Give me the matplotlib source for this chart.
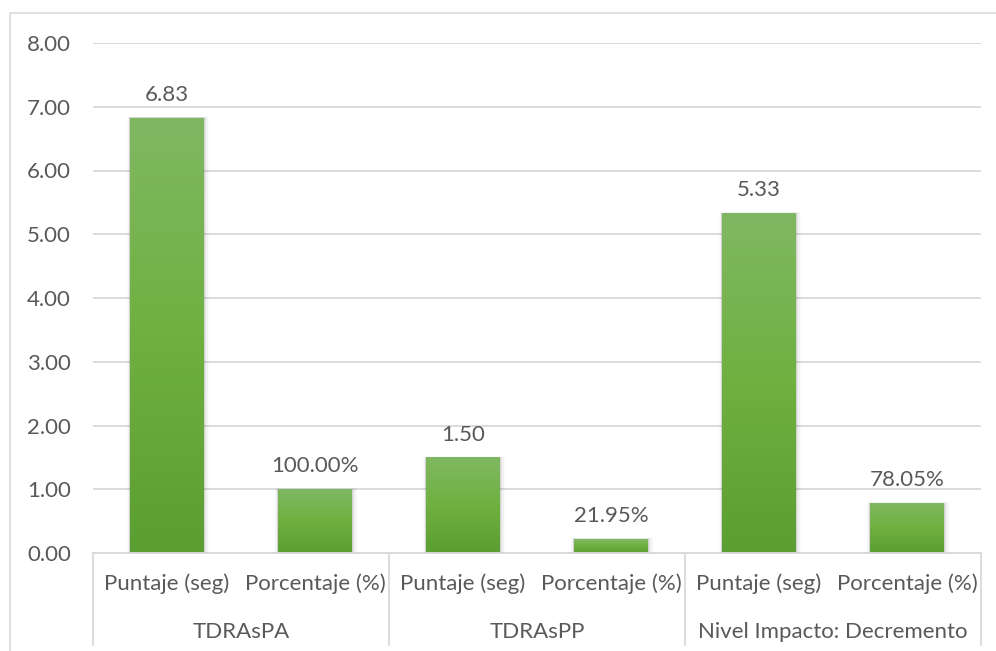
import numpy as np
import matplotlib.pyplot as plt
from matplotlib.patches import Rectangle
from matplotlib.colors import LinearSegmentedColormap
import matplotlib.transforms as mtransforms

# Data
groups = ['TDRAsPA', 'TDRAsPP', 'Nivel Impacto: Decremento']
sub_labels = ['Puntaje (seg)', 'Porcentaje (%)']
values = [6.83, 1.00, 1.50, 0.2195, 5.33, 0.7805]
value_labels = ['6.83', '100.00%', '1.50', '21.95%', '5.33', '78.05%']
y_ticks = [0, 1, 2, 3, 4, 5, 6, 7, 8]

text_color = '#595959'
grid_color = '#d9d9d9'
fs = 16
plt.rcParams['font.family'] = ['Lato', 'DejaVu Sans']

fig = plt.figure(figsize=(9.96, 6.51), dpi=100)
ax = fig.add_axes([93 / 996, 1 - 553 / 651, (981 - 93) / 996, 510 / 651])

# chart area border
fig.patches.append(Rectangle((10 / 996, -0.02), 1.0, 1 - 13 / 651 + 0.02,
                             transform=fig.transFigure, fill=False,
                             edgecolor=grid_color, lw=1.2))

x = np.arange(len(values))
width = 0.5
green = LinearSegmentedColormap.from_list('g', ['#5b9e31', '#6fb040', '#80b862'])
grad = np.linspace(0, 1, 256).reshape(-1, 1)

for xi, v, lab in zip(x, values, value_labels):
    # soft shadow around the bar
    for k, a in enumerate([0.07, 0.05, 0.03, 0.02]):
        d = 0.008 * (k + 1)
        sh = Rectangle((xi - width / 2 - d * 0.6, 0), width + d * 1.6, v + d * 0.5,
                       facecolor='black', alpha=a, lw=0, zorder=2)
        ax.add_patch(sh)
    bar = ax.bar(xi, v, width=width, color='none', lw=0, zorder=3)[0]
    im = ax.imshow(grad, cmap=green, aspect='auto', origin='lower',
                   extent=[xi - width / 2, xi + width / 2, 0, v], zorder=3)
    im.set_clip_path(bar)
    ax.text(xi, v + 0.2, lab, ha='center', va='bottom', fontsize=fs,
            color=text_color)

ax.set_xlim(-0.5, len(values) - 0.5)
ax.set_ylim(0, 8)
ax.set_yticks(y_ticks)
ax.set_yticklabels([f'{t:.2f}' for t in y_ticks])
ax.tick_params(axis='y', length=0, pad=16, labelsize=fs, labelcolor=text_color)
ax.set_xticks([])
ax.grid(axis='y', color=grid_color, lw=1.3, zorder=0)
ax.set_axisbelow(True)
for s in ax.spines.values():
    s.set_visible(False)

# multi-level category axis
trans = mtransforms.blended_transform_factory(ax.transData, ax.transAxes)
ax.plot([-0.5, len(values) - 0.5], [0, 0], transform=trans, color=grid_color,
        lw=1.3, clip_on=False, zorder=4)
for sep in [-0.5, 1.5, 3.5, 5.5]:
    ax.plot([sep, sep], [0, -0.18], transform=trans, color=grid_color, lw=1.3,
            clip_on=False)
for i, xi in enumerate(x):
    ax.text(xi, -0.061, sub_labels[i % 2], transform=trans, ha='center',
            va='center', fontsize=fs, color=text_color)
for g, name in enumerate(groups):
    ax.text(2 * g + 0.5, -0.155, name, transform=trans, ha='center',
            va='center', fontsize=fs, color=text_color)

fig.savefig('out.png', dpi=100)
